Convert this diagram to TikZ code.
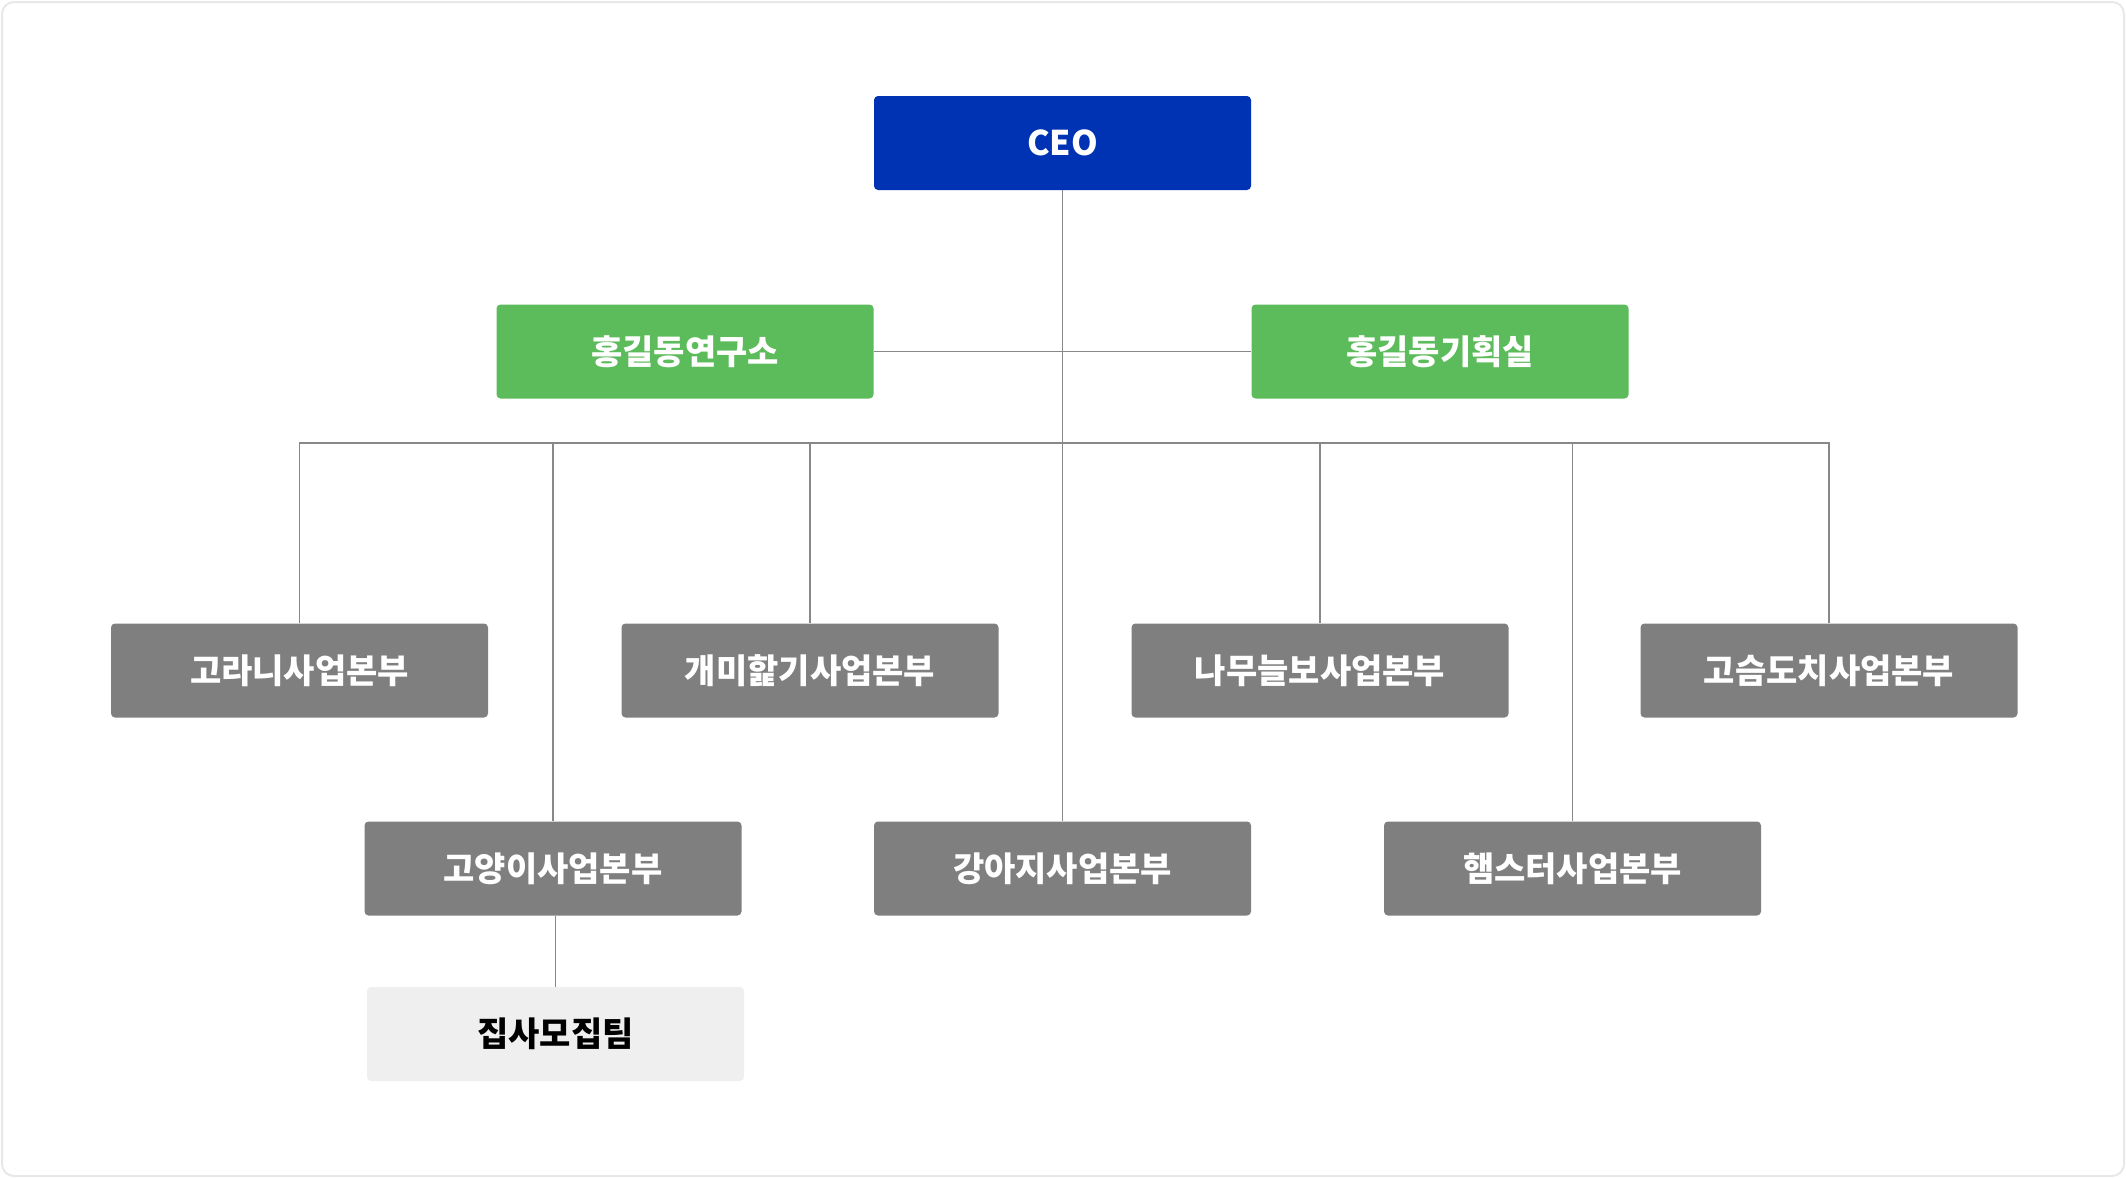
\documentclass[tikz,border=0pt]{standalone}
\usepackage{fontspec}
\setmainfont{Noto Sans CJK KR}
\definecolor{ceoblue}{HTML}{0033B3}
\definecolor{labgreen}{HTML}{5CBB5A}
\definecolor{divgray}{HTML}{7F7F7F}
\definecolor{teamgray}{HTML}{EFEFEF}
\definecolor{linegray}{HTML}{888888}
\definecolor{framegray}{HTML}{E8E8E8}
\begin{document}
\begin{tikzpicture}[x=0.5pt,y=-0.5pt,
  orgbox/.style={rounded corners=2pt, minimum width=188.5pt, minimum height=47pt,
    inner sep=0pt, font=\bfseries\fontsize{17}{18}\selectfont, text=white},
  ceobox/.style={orgbox, fill=ceoblue},
  labbox/.style={orgbox, fill=labgreen},
  divbox/.style={orgbox, fill=divgray},
  teambox/.style={orgbox, fill=teamgray, text=black},
  conn/.style={draw=linegray, line width=0.8pt}]
\useasboundingbox (0,0) rectangle (2126,1178);
\draw[framegray, line width=1pt, rounded corners=6pt] (2,2) rectangle (2124,1176);
% nodes
\node[ceobox] (ceo) at (1062.5,143) {CEO};
\node[labbox] (lab) at (685,351.5) {홍길동연구소};
\node[labbox] (plan) at (1440,351.5) {홍길동기획실};
\node[divbox] (d1) at (299.5,670.5) {고라니사업본부};
\node[divbox] (d2) at (810,670.5) {개미핥기사업본부};
\node[divbox] (d3) at (1320,670.5) {나무늘보사업본부};
\node[divbox] (d4) at (1829,670.5) {고슴도치사업본부};
\node[divbox] (e1) at (553,868.5) {고양이사업본부};
\node[divbox] (e2) at (1062.5,868.5) {강아지사업본부};
\node[divbox] (e3) at (1572.5,868.5) {햄스터사업본부};
\node[teambox] (team) at (555.5,1034) {집사모집팀};
\coordinate (bus) at (1062.5,443);
% connectors
\draw[conn] (ceo.south) -- (e2.north);
\draw[conn] (lab.east) -- (plan.west);
\draw[conn] (d1.north) -- (d1.north |- bus) -- (d4.north |- bus) -- (d4.north);
\draw[conn] (d2.north |- bus) -- (d2.north);
\draw[conn] (d3.north |- bus) -- (d3.north);
\draw[conn] (e1.north |- bus) -- (e1.north);
\draw[conn] (e3.north |- bus) -- (e3.north);
\draw[conn] (e1.south -| team.north) -- (team.north);
\end{tikzpicture}
\end{document}
